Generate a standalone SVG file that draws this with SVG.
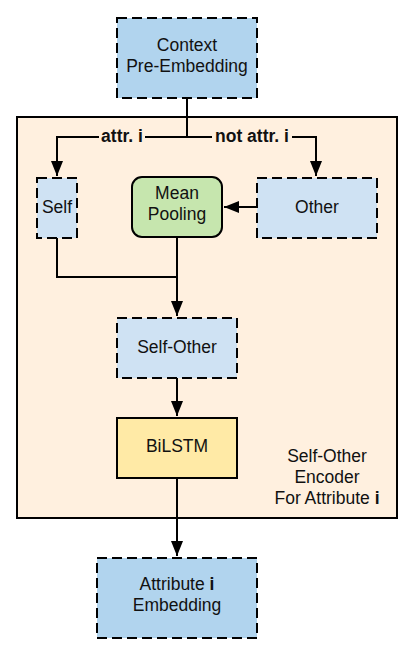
<svg xmlns="http://www.w3.org/2000/svg" width="413" height="659" viewBox="0 0 413 659">
<defs>
<marker id="ah" viewBox="0 0 15 12" refX="15" refY="6" markerWidth="15" markerHeight="12" markerUnits="userSpaceOnUse" orient="auto">
<path d="M0,0 L15,6 L0,12 Z" fill="#000"/>
</marker>
<style>
text{font-family:"Liberation Sans",Arial,sans-serif;font-size:17.5px;fill:#111;text-anchor:middle}
.b{font-weight:bold}
.dash{stroke:#000;stroke-width:2;stroke-dasharray:10 5}
.dark{fill:#b1d4ee}
.light{fill:#cfe2f3}
.ln{fill:none;stroke:#000;stroke-width:2}
</style>
</defs>
<rect width="413" height="659" fill="#fff"/>
<g id="encoder">
<rect x="17" y="117" width="380" height="401" fill="#fff0df" stroke="#000" stroke-width="2"/>
<text x="327" y="462">Self-Other</text>
<text x="327" y="483">Encoder</text>
<text x="327" y="504">For Attribute <tspan class="b">i</tspan></text>
</g>
<g id="connectors">
<path class="ln" d="M187,98 V137"/>
<path class="ln" d="M187,137 H57 V176" marker-end="url(#ah)"/>
<path class="ln" d="M187,137 H316 V176" marker-end="url(#ah)"/>
<path class="ln" d="M257,207 H224" marker-end="url(#ah)"/>
<path class="ln" d="M57,238 V277 H177"/>
<path class="ln" d="M177,237 V316" marker-end="url(#ah)"/>
<path class="ln" d="M177,378 V416" marker-end="url(#ah)"/>
<path class="ln" d="M177,478 V556" marker-end="url(#ah)"/>
<rect x="99" y="128" width="46" height="18" fill="#fff0df"/>
<rect x="212" y="128" width="80" height="18" fill="#fff0df"/>
<text class="b" x="122" y="142">attr. i</text>
<text class="b" x="252" y="142">not attr. i</text>
</g>
<g id="context">
<rect class="dash dark" x="117" y="18" width="140" height="80"/>
<text x="187" y="51">Context</text>
<text x="187" y="72">Pre-Embedding</text>
</g>
<g id="self">
<rect class="dash light" x="37" y="178" width="40" height="60"/>
<text x="57" y="213">Self</text>
</g>
<g id="mean-pooling">
<rect x="132" y="177" width="90" height="60" rx="10" fill="#c6e6ae" stroke="#000" stroke-width="2"/>
<text x="177" y="199">Mean</text>
<text x="177" y="220">Pooling</text>
</g>
<g id="other">
<rect class="dash light" x="257" y="178" width="120" height="60"/>
<text x="317" y="213">Other</text>
</g>
<g id="self-other">
<rect class="dash light" x="117" y="318" width="120" height="60"/>
<text x="177" y="353">Self-Other</text>
</g>
<g id="bilstm">
<rect x="117" y="418" width="120" height="60" fill="#ffeaa6" stroke="#000" stroke-width="2"/>
<text x="177" y="452">BiLSTM</text>
</g>
<g id="attribute">
<rect class="dash dark" x="97" y="558" width="160" height="80"/>
<text x="177" y="590">Attribute <tspan class="b">i</tspan></text>
<text x="177" y="611">Embedding</text>
</g>
</svg>
